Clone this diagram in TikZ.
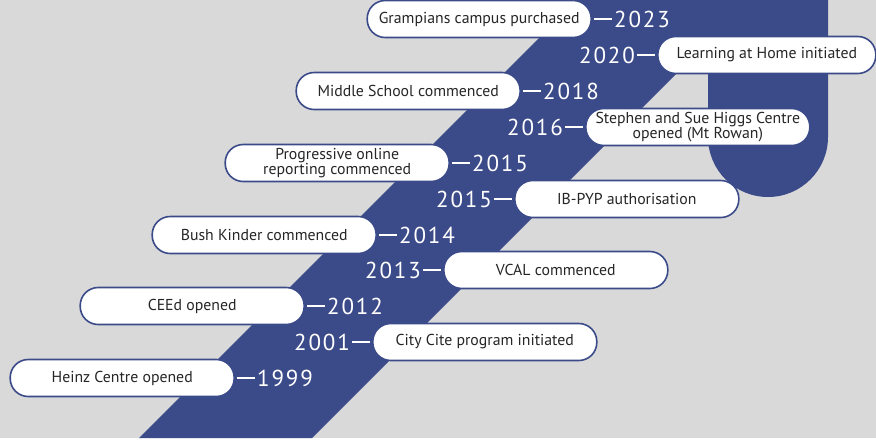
\documentclass[tikz,border=0pt]{standalone}
\usepackage{fontspec}
\setmainfont{PT Sans}
\newfontfamily\yearfont[LetterSpace=8]{PT Sans}
\usetikzlibrary{positioning}

\definecolor{bandblue}{HTML}{3B4A89}
\definecolor{bggray}{HTML}{D9D9D9}
\definecolor{labeltext}{HTML}{262626}

\tikzset{
  event/.style={draw=bandblue, fill=white, line width=1.6pt, rounded corners=18pt,
    minimum width=224pt, minimum height=37pt, inner sep=0pt, align=center,
    text=labeltext, font=\fontsize{15.8}{15.5}\selectfont},
  year/.style={inner sep=0pt, text=white, font=\yearfont\fontsize{23}{23}\selectfont},
  link/.style={white, line width=1.8pt, shorten <=2pt, shorten >=2pt}
}

\begin{document}
\begin{tikzpicture}[x=1pt,y=-1pt]
\useasboundingbox (0,0) rectangle (876,445);
% background and band
\fill [white] (0,0) rectangle (876,445);
\fill [bggray] (0,0) rectangle (876,438);
\fill [bandblue] (577,0) -- (828,0) -- (828,137) arc[start angle=0, end angle=180, radius=60]
  -- (708,42) -- (312,438) -- (139,438) -- cycle;
% events on the left of the band
\node (n2023) [event, anchor=east] at (592,19) {Grampians campus purchased};
\node (y2023) [year, right=22pt of n2023] {2023};
\node (n2018) [event, anchor=east] at (521,91) {Middle School commenced};
\node (y2018) [year, right=22pt of n2018] {2018};
\node (n2015a) [event, anchor=east] at (450,163) {Progressive online\\reporting commenced};
\node (y2015a) [year, right=22pt of n2015a] {2015};
\node (n2014) [event, anchor=east] at (377,235) {Bush Kinder commenced};
\node (y2014) [year, right=22pt of n2014] {2014};
\node (n2012) [event, anchor=east] at (305,306) {CEEd opened};
\node (y2012) [year, right=22pt of n2012] {2012};
\node (n1999) [event, anchor=east] at (235,378) {Heinz Centre opened};
\node (y1999) [year, right=22pt of n1999] {1999};
% events on the right of the band
\node (n2020) [event, anchor=west, minimum width=218pt] at (657,55) {Learning at Home initiated};
\node (y2020) [year, left=22pt of n2020] {2020};
\node (n2016) [event, anchor=west] at (585,127) {Stephen and Sue Higgs Centre\\opened (Mt Rowan)};
\node (y2016) [year, left=22pt of n2016] {2016};
\node (n2015b) [event, anchor=west] at (514,199) {IB-PYP authorisation};
\node (y2015b) [year, left=22pt of n2015b] {2015};
\node (n2013) [event, anchor=west] at (443,270) {VCAL commenced};
\node (y2013) [year, left=22pt of n2013] {2013};
\node (n2001) [event, anchor=west] at (372,342) {City Cite program initiated};
\node (y2001) [year, left=22pt of n2001] {2001};
% links
\foreach \n in {2023,2018,2015a,2014,2012,1999}
  \draw [link] (n\n.east) -- (y\n.west);
\foreach \n in {2020,2016,2015b,2013,2001}
  \draw [link] (y\n.east) -- (n\n.west);
\end{tikzpicture}
\end{document}
